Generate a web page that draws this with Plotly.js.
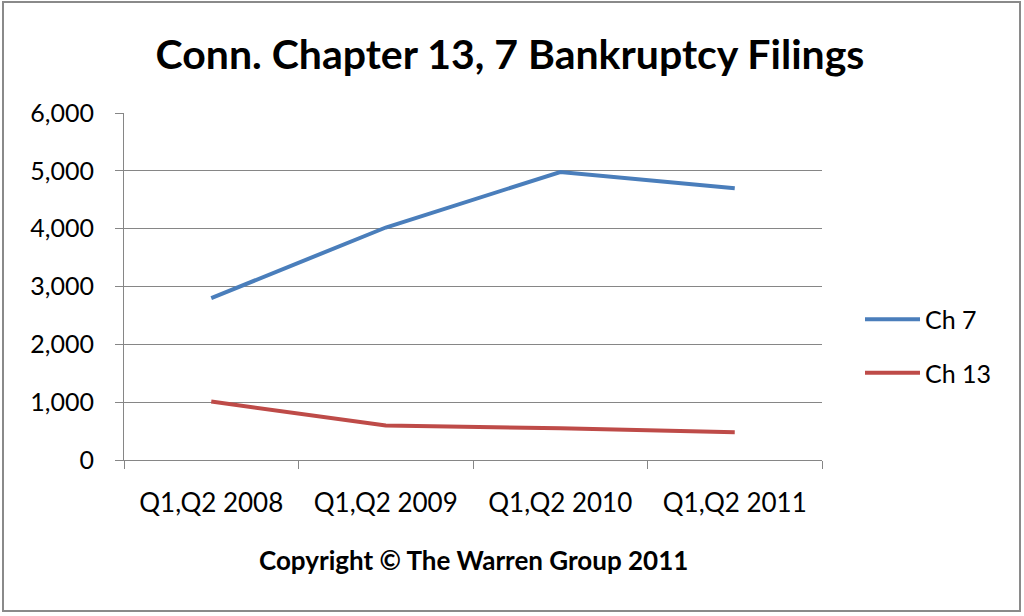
<!DOCTYPE html>
<html>
<head>
<meta charset="utf-8">
<script src="https://cdn.plot.ly/plotly-3.0.1.min.js"></script>
<style>html,body{margin:0;padding:0;background:#fff;}#chart{width:1024px;height:616px;}</style>
</head>
<body>
<div id="chart"></div>
<script>
var categories = ["Q1,Q2 2008", "Q1,Q2 2009", "Q1,Q2 2010", "Q1,Q2 2011"];
var ch7 = [2800, 4020, 4980, 4700];
var ch13 = [1010, 595, 550, 480];
var yTickVals = [0, 1000, 2000, 3000, 4000, 5000, 6000];
var yTickText = ["0", "1,000", "2,000", "3,000", "4,000", "5,000", "6,000"];

var FONT = "Lato, 'Open Sans', sans-serif";
var L = 124, R = 822, T = 113, B = 460, W = 1024, H = 616;
function px(x){ return (x - L) / (R - L); }
function py(y){ return (B - y) / (B - T); }

var traces = [
  {x: categories, y: ch7, name: "Ch 7", type: "scatter", mode: "lines",
   line: {color: "#4A7EBB", width: 4}, legendgroup: "a"},
  {x: categories, y: ch13, name: "Ch 13", type: "scatter", mode: "lines",
   line: {color: "#BE4B48", width: 4}, legendgroup: "b"}
];

var layout = {
  width: W, height: H,
  margin: {l: L, r: W - R, t: T, b: H - B, pad: 0},
  paper_bgcolor: "#fff", plot_bgcolor: "#fff",
  font: {family: FONT, color: "#000", size: 25},
  title: {text: "<b>Conn. Chapter 13, 7 Bankruptcy Filings</b>", font: {family: FONT, size: 41, color: "#000"},
          x: 0.498, xanchor: "center", y: 1 - 55 / H, yanchor: "middle"},
  xaxis: {type: "category", range: [-0.5, 3.5], tickson: "boundaries", ticks: "outside", ticklen: 8,
          tickcolor: "#868686", tickwidth: 1, showline: true, linecolor: "#868686", linewidth: 1,
          showgrid: false, zeroline: false, ticklabelstandoff: 20,
          tickfont: {family: FONT, size: 26, color: "#000"}, fixedrange: true},
  yaxis: {range: [0, 6000], tickvals: yTickVals, ticktext: yTickText, ticks: "outside", ticklen: 8,
          tickcolor: "#868686", tickwidth: 1, showline: true, linecolor: "#868686", linewidth: 1,
          showgrid: true, gridcolor: "#868686", gridwidth: 1, zeroline: false, ticklabelstandoff: 16,
          tickfont: {family: FONT, size: 25, color: "#000"}, fixedrange: true},
  showlegend: true,
  legend: {x: px(860), xanchor: "left", y: py(346), yanchor: "middle", tracegroupgap: 18,
           itemwidth: 55, traceorder: "grouped", font: {family: FONT, size: 25, color: "#000"},
           bgcolor: "rgba(0,0,0,0)"},
  annotations: [
    {text: "<b>Copyright © The Warren Group 2011</b>", xref: "paper", yref: "paper",
     x: px(473), y: py(560), xanchor: "center", yanchor: "middle", showarrow: false,
     font: {family: FONT, size: 26, color: "#000"}}
  ],
  shapes: [
    {type: "rect", xref: "paper", yref: "paper", x0: px(3), x1: px(1020), y0: py(611), y1: py(2),
     line: {color: "#8a8a8a", width: 2}, fillcolor: "rgba(0,0,0,0)"}
  ]
};

Plotly.newPlot("chart", traces, layout, {displayModeBar: false, staticPlot: true});
</script>
</body>
</html>
